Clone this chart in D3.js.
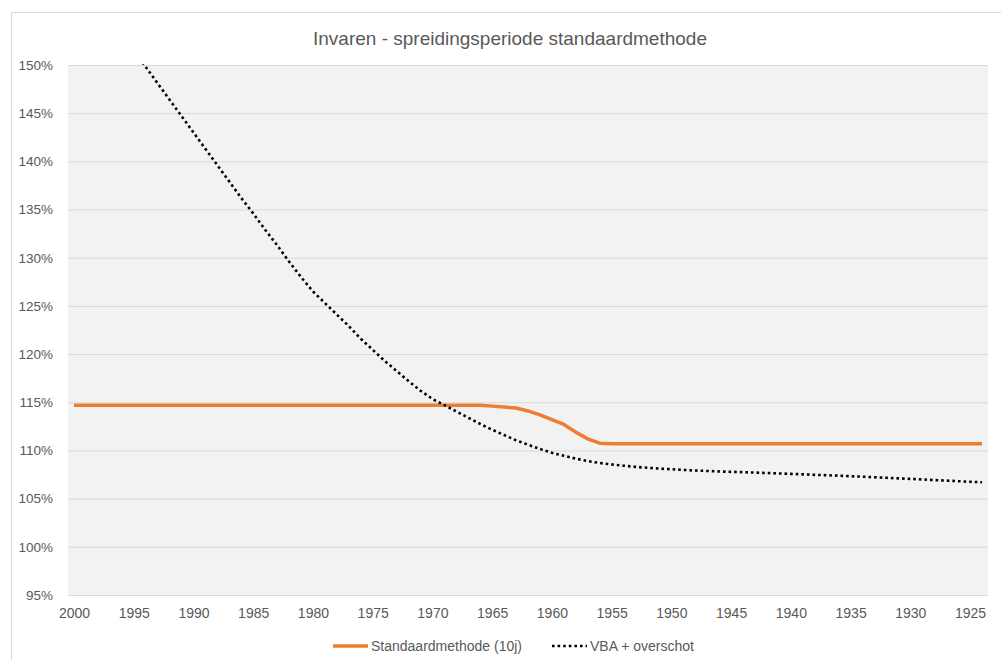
<!DOCTYPE html>
<html>
<head>
<meta charset="utf-8">
<script src="https://cdn.jsdelivr.net/npm/d3@7"></script>
<style>
    body { margin: 0; background: #fff; }
    svg { display: block; font-family: "Liberation Sans", Arial, sans-serif; }
</style>
</head>
<body>
<div id="chart"></div>
<script>
// categories (years, descending as in the original)
let years = [2000, 1999, 1998, 1997, 1996, 1995, 1994, 1993, 1992, 1991,
    1990, 1989, 1988, 1987, 1986, 1985, 1984, 1983, 1982, 1981,
    1980, 1979, 1978, 1977, 1976, 1975, 1974, 1973, 1972, 1971,
    1970, 1969, 1968, 1967, 1966, 1965, 1964, 1963, 1962, 1961,
    1960, 1959, 1958, 1957, 1956, 1955, 1954, 1953, 1952, 1951,
    1950, 1949, 1948, 1947, 1946, 1945, 1944, 1943, 1942, 1941,
    1940, 1939, 1938, 1937, 1936, 1935, 1934, 1933, 1932, 1931,
    1930, 1929, 1928, 1927, 1926, 1925, 1924];

let xTickLabels = [2000, 1995, 1990, 1985, 1980, 1975, 1970, 1965, 1960,
    1955, 1950, 1945, 1940, 1935, 1930, 1925];

let yTicks = [0.95, 1.00, 1.05, 1.10, 1.15, 1.20, 1.25, 1.30, 1.35, 1.40, 1.45, 1.50];

// Standaardmethode (10j)
let standaard = [1.147, 1.147, 1.147, 1.147, 1.147, 1.147, 1.147, 1.147, 1.147, 1.147,
    1.147, 1.147, 1.147, 1.147, 1.147, 1.147, 1.147, 1.147, 1.147, 1.147,
    1.147, 1.147, 1.147, 1.147, 1.147, 1.147, 1.147, 1.147, 1.147, 1.147,
    1.147, 1.147, 1.147, 1.147, 1.1468, 1.146, 1.145, 1.144, 1.141, 1.137,
    1.132, 1.127, 1.119, 1.112, 1.1075, 1.107, 1.107, 1.107, 1.107, 1.107,
    1.107, 1.107, 1.107, 1.107, 1.107, 1.107, 1.107, 1.107, 1.107, 1.107,
    1.107, 1.107, 1.107, 1.107, 1.107, 1.107, 1.107, 1.107, 1.107, 1.107,
    1.107, 1.107, 1.107, 1.107, 1.107, 1.107, 1.107];

// VBA + overschot
let vba = [1.609, 1.590, 1.571, 1.553, 1.535, 1.517, 1.498, 1.481, 1.464, 1.447,
    1.430, 1.413, 1.396, 1.379, 1.362, 1.346, 1.329, 1.313, 1.296, 1.280,
    1.265, 1.253, 1.241, 1.229, 1.216, 1.2045, 1.193, 1.1825, 1.172, 1.162,
    1.1535, 1.147, 1.1405, 1.134, 1.1275, 1.1215, 1.116, 1.1105, 1.106, 1.1015,
    1.0975, 1.0945, 1.0915, 1.089, 1.087, 1.0855, 1.0842, 1.083, 1.082, 1.0812,
    1.0805, 1.0798, 1.0792, 1.0787, 1.0782, 1.0778, 1.0775, 1.077, 1.0766, 1.0761,
    1.0757, 1.0752, 1.0747, 1.0743, 1.0738, 1.0733, 1.0728, 1.0722, 1.0716, 1.071,
    1.0705, 1.0699, 1.0693, 1.0687, 1.0681, 1.0675, 1.067];

let seriesNames = ['Standaardmethode (10j)', 'VBA + overschot'];

let width = 1001,
    height = 660;

let plot = { left: 68, right: 988, top: 65, bottom: 595 };

let svg = d3.select('#chart').append('svg')
    .attr('width', width)
    .attr('height', height);

// chart area border
svg.append('rect')
    .attr('x', 11.5)
    .attr('y', 12.5)
    .attr('width', width)
    .attr('height', height)
    .attr('fill', '#fff')
    .attr('stroke', '#d9d9d9');

svg.append('text')
    .attr('x', 510)
    .attr('y', 45)
    .attr('text-anchor', 'middle')
    .attr('fill', '#595959')
    .style('font-size', '19px')
    .text('Invaren - spreidingsperiode standaardmethode');

let x = d3.scalePoint()
    .domain(years)
    .range([plot.left, plot.right])
    .padding(0.5);

let y = d3.scaleLinear()
    .domain([0.95, 1.50])
    .range([plot.bottom, plot.top]);

svg.append('rect')
    .attr('x', plot.left)
    .attr('y', plot.top)
    .attr('width', plot.right - plot.left)
    .attr('height', plot.bottom - plot.top)
    .attr('fill', '#f2f2f2');

svg.append('clipPath')
    .attr('id', 'plotclip')
    .append('rect')
    .attr('x', plot.left)
    .attr('y', plot.top - 1)
    .attr('width', plot.right - plot.left)
    .attr('height', plot.bottom - plot.top + 1);

// y axis with gridlines
let yAxis = svg.append('g')
    .attr('transform', 'translate(' + plot.left + ',0)')
    .call(d3.axisLeft(y)
        .tickValues(yTicks)
        .tickFormat(d3.format('.0%'))
        .tickSize(-(plot.right - plot.left))
        .tickPadding(15));

yAxis.select('.domain').remove();
yAxis.selectAll('line')
    .attr('stroke', '#d9d9d9')
    .attr('stroke-width', 1);
yAxis.selectAll('text')
    .attr('fill', '#595959')
    .style('font-size', '13.5px');

// x axis
let xAxis = svg.append('g')
    .attr('transform', 'translate(0,' + plot.bottom + ')')
    .call(d3.axisBottom(x)
        .tickValues(xTickLabels)
        .tickSize(0)
        .tickPadding(13));

xAxis.select('.domain').remove();
xAxis.selectAll('text')
    .attr('fill', '#595959')
    .style('font-size', '14px');

let lineGen = d3.line()
    .x(function(d, i) { return x(years[i]); })
    .y(function(d) { return y(d); });

let lines = svg.append('g')
    .attr('clip-path', 'url(#plotclip)');

lines.append('path')
    .datum(standaard)
    .attr('fill', 'none')
    .attr('stroke', '#ed7d31')
    .attr('stroke-width', 3.5)
    .attr('stroke-linejoin', 'round')
    .attr('d', lineGen);

lines.append('path')
    .datum(vba)
    .attr('fill', 'none')
    .attr('stroke', '#000')
    .attr('stroke-width', 2.6)
    .attr('stroke-dasharray', '2.6 3')
    .attr('d', lineGen);

// legend
let legend = svg.append('g');

legend.append('line')
    .attr('x1', 333).attr('x2', 368)
    .attr('y1', 646).attr('y2', 646)
    .attr('stroke', '#ed7d31')
    .attr('stroke-width', 3.5);

legend.append('text')
    .attr('x', 371)
    .attr('y', 651)
    .attr('fill', '#595959')
    .style('font-size', '14px')
    .text(seriesNames[0]);

legend.append('line')
    .attr('x1', 552).attr('x2', 587)
    .attr('y1', 646).attr('y2', 646)
    .attr('stroke', '#000')
    .attr('stroke-width', 2.6)
    .attr('stroke-dasharray', '2.6 3');

legend.append('text')
    .attr('x', 590)
    .attr('y', 651)
    .attr('fill', '#595959')
    .style('font-size', '14px')
    .text(seriesNames[1]);
</script>
</body>
</html>
